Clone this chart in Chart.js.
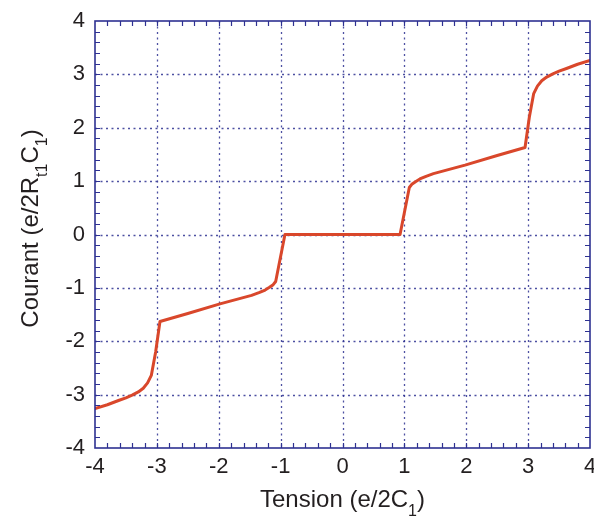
<!DOCTYPE html>
<html>
<head>
<meta charset="utf-8">
<script src="https://cdn.jsdelivr.net/npm/chart.js@4/dist/chart.umd.min.js"></script>
<style>
  html, body { margin: 0; padding: 0; background: #ffffff; }
  canvas { display: block; }
</style>
</head>
<body>
<canvas id="c" width="594" height="520"></canvas>
<script>
// ---- data ----
const voltage = [-4.0, -3.8, -3.62, -3.5, -3.4, -3.3, -3.22, -3.15, -3.09, -3.02, -2.95, -2.5, -1.98, -1.47, -1.35, -1.25, -1.18, -1.12, -1.08, -0.93,
                  0.93, 1.08, 1.12, 1.18, 1.25, 1.35, 1.47, 1.98, 2.5, 2.95, 3.02, 3.09, 3.15, 3.22, 3.3, 3.4, 3.5, 3.62, 3.8, 4.0];
const current = [-3.26, -3.19, -3.11, -3.06, -3.01, -2.95, -2.88, -2.78, -2.64, -2.2, -1.63, -1.48, -1.30, -1.14, -1.09, -1.04, -0.99, -0.94, -0.88, 0.0,
                  0.0, 0.88, 0.94, 0.99, 1.04, 1.09, 1.14, 1.30, 1.48, 1.63, 2.2, 2.64, 2.78, 2.88, 2.95, 3.01, 3.06, 3.11, 3.19, 3.26];
const xTicks = [-4, -3, -2, -1, 0, 1, 2, 3, 4];
const yTicks = [-4, -3, -2, -1, 0, 1, 2, 3, 4];
const minorStep = 0.2;
const xTitle = [{t: 'Tension (e/2C'}, {t: '1', sub: true}, {t: ')'}];
const yTitle = [{t: 'Courant (e/2R'}, {t: 't1', sub: true}, {t: 'C'}, {t: '1', sub: true}, {t: ')'}];

const points = voltage.map((v, i) => ({x: v, y: current[i]}));

const NAVY = '#2e3192';
const TEXT = '#231f20';
const FONT = '"Liberation Sans", Arial, Helvetica, sans-serif';

function drawRich(ctx, parts, size, subSize, subOffset) {
  let total = 0;
  parts.forEach(p => {
    ctx.font = (p.sub ? subSize : size) + 'px ' + FONT;
    p.w = ctx.measureText(p.t).width;
    total += p.w;
  });
  let x = -total / 2;
  parts.forEach(p => {
    ctx.font = (p.sub ? subSize : size) + 'px ' + FONT;
    ctx.fillText(p.t, x, p.sub ? subOffset : 0);
    x += p.w;
  });
}

const framePlugin = {
  id: 'frame',
  beforeDatasetsDraw(chart) {
    const {ctx, chartArea: a, scales: {x, y}} = chart;
    ctx.save();
    ctx.strokeStyle = 'rgba(46,49,146,0.85)';
    ctx.lineWidth = 1.3;
    ctx.setLineDash([2, 3.5]);
    xTicks.forEach(v => {
      if (v === x.min || v === x.max) return;
      const px = Math.round(x.getPixelForValue(v)) + 0.5;
      ctx.beginPath(); ctx.moveTo(px, a.top); ctx.lineTo(px, a.bottom); ctx.stroke();
    });
    yTicks.forEach(v => {
      if (v === y.min || v === y.max) return;
      const py = Math.round(y.getPixelForValue(v)) + 0.5;
      ctx.beginPath(); ctx.moveTo(a.left, py); ctx.lineTo(a.right, py); ctx.stroke();
    });
    ctx.restore();
  },
  afterDatasetsDraw(chart) {
    const {ctx, chartArea: a, scales: {x, y}} = chart;
    ctx.save();
    ctx.strokeStyle = NAVY;
    ctx.lineWidth = 1.2;
    ctx.setLineDash([]);
    const L = 5;
    const nx = Math.round((x.max - x.min) / minorStep);
    for (let i = 1; i < nx; i++) {
      const px = Math.round(x.getPixelForValue(x.min + i * minorStep)) + 0.5;
      ctx.beginPath();
      ctx.moveTo(px, a.bottom); ctx.lineTo(px, a.bottom - L);
      ctx.moveTo(px, a.top); ctx.lineTo(px, a.top + L);
      ctx.stroke();
    }
    const ny = Math.round((y.max - y.min) / minorStep);
    for (let i = 1; i < ny; i++) {
      const py = Math.round(y.getPixelForValue(y.min + i * minorStep)) + 0.5;
      ctx.beginPath();
      ctx.moveTo(a.left, py); ctx.lineTo(a.left + L, py);
      ctx.moveTo(a.right, py); ctx.lineTo(a.right - L, py);
      ctx.stroke();
    }
    ctx.lineWidth = 1.6;
    ctx.strokeRect(a.left, a.top, a.right - a.left, a.bottom - a.top);
    ctx.restore();
  },
  afterDraw(chart) {
    const {ctx, chartArea: a} = chart;
    ctx.save();
    ctx.fillStyle = TEXT;
    ctx.textBaseline = 'alphabetic';
    ctx.textAlign = 'left';
    ctx.save();
    ctx.translate((a.left + a.right) / 2, 507);
    drawRich(ctx, xTitle, 24, 16, 9);
    ctx.restore();
    ctx.save();
    ctx.translate(38, (a.top + a.bottom) / 2 - 6);
    ctx.rotate(-Math.PI / 2);
    drawRich(ctx, yTitle, 24, 16, 9);
    ctx.restore();
    ctx.restore();
  }
};

new Chart(document.getElementById('c'), {
  type: 'scatter',
  data: {
    datasets: [{
      data: points,
      showLine: true,
      borderColor: '#d9472b',
      backgroundColor: '#d9472b',
      borderWidth: 3,
      pointRadius: 0,
      tension: 0,
      borderJoinStyle: 'round',
      borderCapStyle: 'round'
    }]
  },
  options: {
    responsive: false,
    animation: false,
    events: [],
    layout: { padding: { top: 21, right: 4, left: 0, bottom: 0 } },
    plugins: { legend: { display: false }, tooltip: { enabled: false }, title: { display: false } },
    scales: {
      x: {
        type: 'linear', min: -4, max: 4,
        afterBuildTicks: s => { s.ticks = xTicks.map(v => ({value: v})); },
        ticks: { color: TEXT, font: { size: 22, family: FONT }, padding: 6, maxRotation: 0, autoSkip: false,
                 callback: v => String(v) },
        grid: { display: false, drawTicks: false },
        border: { display: false },
        afterFit: s => { s.height = 72; s.paddingLeft = 0; s.paddingRight = 0; }
      },
      y: {
        type: 'linear', min: -4, max: 4,
        afterBuildTicks: s => { s.ticks = yTicks.map(v => ({value: v})); },
        ticks: { color: TEXT, font: { size: 22, family: FONT }, padding: 10, autoSkip: false,
                 callback: v => String(v) },
        grid: { display: false, drawTicks: false },
        border: { display: false },
        afterFit: s => { s.width = 95; s.paddingTop = 0; s.paddingBottom = 0; }
      }
    }
  },
  plugins: [framePlugin]
});
</script>
</body>
</html>
